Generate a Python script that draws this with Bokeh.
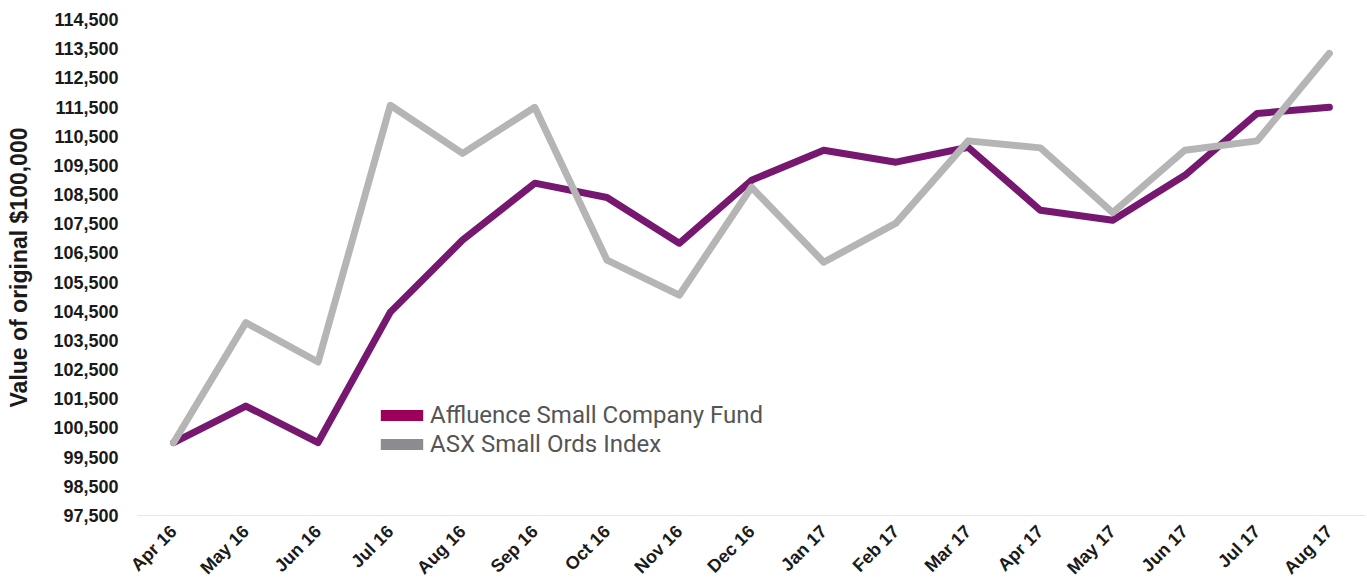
import math
from bokeh.plotting import figure
from bokeh.models import Range1d, Legend, LegendItem, ColumnDataSource, NumeralTickFormatter, FixedTicker
from bokeh.embed import file_html
from bokeh.resources import INLINE

months = ["Apr 16", "May 16", "Jun 16", "Jul 16", "Aug 16", "Sep 16", "Oct 16", "Nov 16",
          "Dec 16", "Jan 17", "Feb 17", "Mar 17", "Apr 17", "May 17", "Jun 17", "Jul 17", "Aug 17"]
fund = [100000, 101250, 100000, 104470, 106940, 108890, 108400, 106830,
        108990, 110020, 109610, 110120, 107960, 107620, 109160, 111280, 111490]
index = [100000, 104110, 102760, 111560, 109910, 111490, 106250, 105050,
         108750, 106180, 107520, 110340, 110100, 107880, 110020, 110340, 113340]
y_ticks = [97500 + 1000 * i for i in range(18)]
series_names = ["Affluence Small Company Fund", "ASX Small Ords Index"]

p = figure(width=1367, height=588, x_range=months, y_range=Range1d(97500, 114500),
           output_backend="svg", toolbar_location=None,
           min_border_left=137, min_border_right=2, min_border_top=19, min_border_bottom=70)
p.outline_line_color = None
p.grid.grid_line_color = None
p.background_fill_color = "white"
p.border_fill_color = "white"

src = ColumnDataSource(dict(m=months, fund=fund, index=index))
p.line("m", "fund", source=src, line_color="#76186f", line_width=7,
       line_join="round", line_cap="round")
p.line("m", "index", source=src, line_color="#b5b5b5", line_width=7,
       line_join="round", line_cap="round")

# legend swatches (legend only, nothing drawn in the plot)
nan = float("nan")
swatch = ColumnDataSource(dict(l=[nan], r=[nan], t=[nan], b=[nan]))
r1 = p.quad(left="l", right="r", top="t", bottom="b", source=swatch,
            fill_color="#9c0058", line_color=None)
r2 = p.quad(left="l", right="r", top="t", bottom="b", source=swatch,
            fill_color="#8c8c90", line_color=None)
legend = Legend(items=[LegendItem(label=series_names[0], renderers=[r1]),
                       LegendItem(label=series_names[1], renderers=[r2])],
                location=(238, 57), orientation="vertical",
                glyph_width=53, glyph_height=14, label_standoff=2,
                padding=0, margin=0, spacing=1,
                border_line_color=None, background_fill_alpha=0,
                label_text_font="Roboto", label_text_font_size="24px",
                label_text_color="#555555")
p.add_layout(legend, "center")

# y axis
p.yaxis.ticker = FixedTicker(ticks=y_ticks)
p.yaxis.formatter = NumeralTickFormatter(format="0,0")
p.yaxis.axis_line_color = None
p.yaxis.major_tick_line_color = None
p.yaxis.minor_tick_line_color = None
p.yaxis.major_tick_out = 0
p.yaxis.major_tick_in = 0
p.yaxis.minor_tick_out = 0
p.yaxis.major_label_text_font = "Liberation Sans"
p.yaxis.major_label_text_font_style = "bold"
p.yaxis.major_label_text_font_size = "18px"
p.yaxis.major_label_text_color = "#1a1a1a"
p.yaxis.major_label_standoff = 19
p.yaxis.axis_label = "Value of original $100,000"
p.yaxis.axis_label_text_font = "Liberation Sans"
p.yaxis.axis_label_text_font_style = "bold"
p.yaxis.axis_label_text_font_size = "23px"
p.yaxis.axis_label_text_color = "#1a1a1a"
p.yaxis.axis_label_standoff = 18

# x axis
p.xaxis.axis_line_color = "#e3e8eb"
p.xaxis.axis_line_width = 1
p.xaxis.major_tick_line_color = None
p.xaxis.minor_tick_line_color = None
p.xaxis.major_tick_out = 0
p.xaxis.major_tick_in = 0
p.xaxis.minor_tick_out = 0
p.xaxis.major_label_orientation = math.pi / 4
p.xaxis.major_label_text_font = "Liberation Sans"
p.xaxis.major_label_text_font_style = "bold"
p.xaxis.major_label_text_font_size = "18px"
p.xaxis.major_label_text_color = "#1a1a1a"
p.xaxis.major_label_standoff = 13
p.x_range.range_padding = 0

open("out.html", "w").write(file_html(p, INLINE))
